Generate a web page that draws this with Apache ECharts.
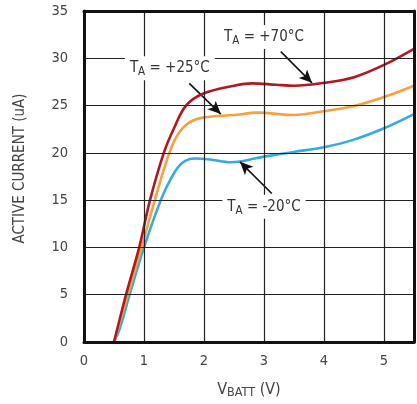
<!DOCTYPE html>
<html><head><meta charset="utf-8">
<script src="https://cdn.jsdelivr.net/npm/echarts@6/dist/echarts.min.js"></script>
<style>html,body{margin:0;padding:0;background:#fff}#c{width:417px;height:404px}</style>
</head><body><div id="c"></div>
<script>
const xTicks = [0, 1, 2, 3, 4, 5];
const yTicks = [0, 5, 10, 15, 20, 25, 30, 35];
const seriesNames = ['TA = +70°C', 'TA = +25°C', 'TA = -20°C'];
const red70 = [[0.5,0],[0.7,5],[0.92,10],[1.1,15],[1.33,20],[1.5,22.6],[1.7,25],[2,26.3],[2.5,27.1],[2.8,27.35],[3.2,27.2],[3.5,27.1],[4,27.4],[4.5,28.0],[5,29.3],[5.5,31.0]];
const orange25 = [[0.5,0],[0.73,5],[0.96,10],[1.18,15],[1.4,19.6],[1.55,21.8],[1.75,23.2],[2,23.75],[2.5,24.0],[2.9,24.25],[3.5,24.0],[4,24.4],[4.5,24.95],[5,25.9],[5.5,27.1]];
const blueM20 = [[0.5,0],[0.6,1.5],[0.76,5],[1.0,10],[1.28,15],[1.46,17.4],[1.63,18.9],[1.85,19.4],[2.1,19.3],[2.45,19.0],[3,19.6],[3.5,20.1],[4,20.6],[4.5,21.4],[5,22.6],[5.5,24.1]];
const labelTexts = ['+70°C', '+25°C', '-20°C'];

// annotation placement (data coordinates)
const labelAt = [[3.0, 32.25], [1.43, 28.95], [3.0, 14.3]];
const arrows = [
  [[3.28, 30.7], [3.8, 27.4]],
  [[1.755, 27.35], [2.28, 24.1]],
  [[3.13, 15.7], [2.6, 19.05]]
];

const FONT = "'Liberation Sans Narrow', 'DejaVu Sans Condensed', sans-serif";
const rich = {
  t: {fontSize: 15, fontFamily: FONT, color: '#333', lineHeight: 20},
  s: {fontSize: 11.5, fontFamily: FONT, color: '#333', lineHeight: 20, padding: [8, 0, 0, 0]}
};

function annotation(i) {
  return {
    symbol: 'rect', symbolSize: 1,
    itemStyle: {color: 'rgba(0,0,0,0)'},
    label: {show: true, position: 'inside', formatter: '{t|T}{s|A}{t| = ' + labelTexts[i] + '}',
      rich: rich, backgroundColor: '#fff', padding: [2, 5, 2, 5]},
    data: [{coord: labelAt[i]}]
  };
}
function arrowLine(i) {
  return {
    silent: true, symbol: ['none', 'arrow'], symbolSize: [9, 13],
    lineStyle: {color: '#111', width: 1.6, type: 'solid'},
    label: {show: false},
    data: [[{coord: arrows[i][0]}, {coord: arrows[i][1]}]]
  };
}

const colors = ['#b01820', '#f7a03c', '#36a9e1'];
const datas = [red70, orange25, blueM20];
const series = datas.map((d, i) => ({
  name: seriesNames[i], type: 'line', data: d, smooth: 0.35,
  showSymbol: false, lineStyle: {color: colors[i], width: 2.6}, z: 3 - i + 2,
  markPoint: Object.assign(annotation(i), {z: 20}),
  markLine: arrowLine(i)
}));

const axisFrame = {lineStyle: {color: '#111', width: 3}, onZero: false};
const chart = echarts.init(document.getElementById('c'));
chart.setOption({
  animation: false,
  grid: {left: 84, right: 3, top: 11, bottom: 62},
  xAxis: [{
    type: 'value', min: 0, max: 5.5, interval: 1, z: 10,
    axisLine: axisFrame, axisTick: {show: false},
    axisLabel: {margin: 12, fontSize: 14.5, fontFamily: FONT, color: '#444',
      formatter: v => xTicks.includes(v) ? String(v) : ''},
    splitLine: {show: true, lineStyle: {color: '#222', width: 1.2}},
    name: '{v|V}{b|BATT}{v| (V)}', nameLocation: 'middle', nameGap: 38,
    nameTextStyle: {rich: {v: {fontSize: 16, fontFamily: FONT, color: '#444', lineHeight: 20},
      b: {fontSize: 12.5, fontFamily: FONT, color: '#444', lineHeight: 20, padding: [5, 0, 0, 0]}}}
  }, {
    type: 'value', position: 'top', min: 0, max: 5.5, interval: 1, z: 10,
    axisLine: axisFrame, axisTick: {show: false}, axisLabel: {show: false}, splitLine: {show: false}
  }],
  yAxis: [{
    type: 'value', min: 0, max: 35, interval: 5, z: 10,
    axisLine: axisFrame, axisTick: {show: false},
    axisLabel: {margin: 16, fontSize: 14.5, fontFamily: FONT, color: '#444',
      formatter: v => yTicks.includes(v) ? String(v) : ''},
    splitLine: {show: true, lineStyle: {color: '#222', width: 1.2}},
    name: 'ACTIVE CURRENT (uA)', nameLocation: 'middle', nameGap: 56,
    nameTextStyle: {fontSize: 15, fontFamily: FONT, color: '#444', padding: [0, 0, 0, 16]}
  }, {
    type: 'value', position: 'right', min: 0, max: 35, interval: 5, z: 10,
    axisLine: axisFrame, axisTick: {show: false}, axisLabel: {show: false}, splitLine: {show: false}
  }],
  series: series
});
</script></body></html>
